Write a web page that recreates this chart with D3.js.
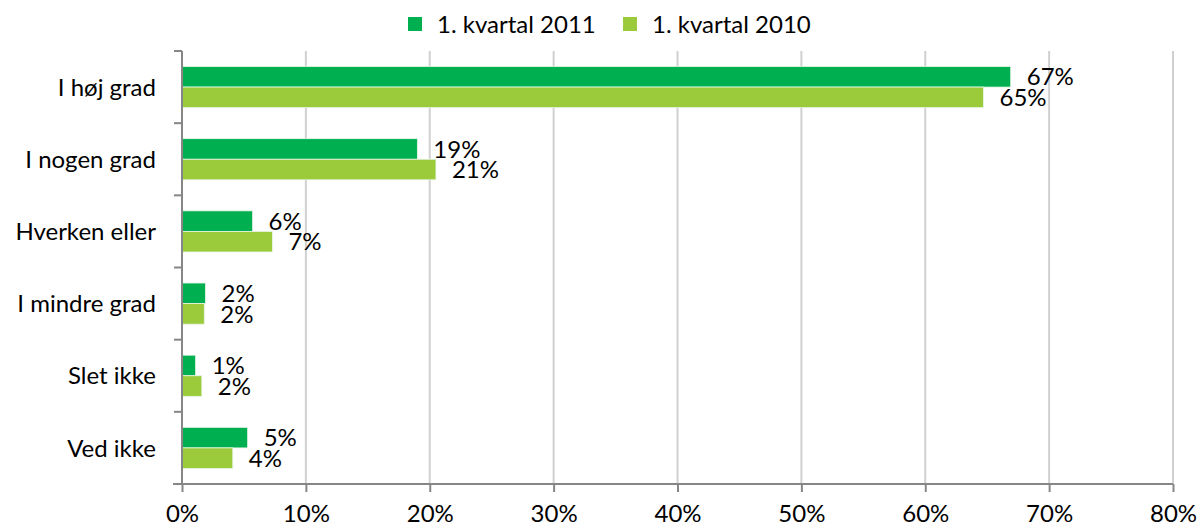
<!DOCTYPE html>
<html>
<head>
<meta charset="utf-8">
<script src="https://cdn.jsdelivr.net/npm/d3@7"></script>
<style>
  body { margin: 0; background: #fff; }
  svg text { font-family: Lato, "Open Sans", sans-serif; fill: #000; }
</style>
</head>
<body>
<div class="plot"></div>
<script>
const width = 1199, height = 528;
const margin = {top: 51, right: 26, bottom: 44, left: 182};

// Data
const categories = ["I høj grad", "I nogen grad", "Hverken eller", "I mindre grad", "Slet ikke", "Ved ikke"];
const seriesNames = ["1. kvartal 2011", "1. kvartal 2010"];
const values2011 = [66.9, 19.0, 5.7, 1.9, 1.1, 5.3];
const values2010 = [64.7, 20.5, 7.3, 1.8, 1.6, 4.1];
const labels2011 = ["67%", "19%", "6%", "2%", "1%", "5%"];
const labels2010 = ["65%", "21%", "7%", "2%", "2%", "4%"];
const xTicks = [0, 10, 20, 30, 40, 50, 60, 70, 80];
const colors = ["#00B050", "#9BCB3B"];

const fontSize = "24px";

const svg = d3.select(".plot")
    .append("svg")
        .attr("width", width)
        .attr("height", height);

const x = d3.scaleLinear()
    .domain([0, 80])
    .range([margin.left, width - margin.right]);

const y = d3.scaleBand()
    .domain(categories)
    .range([margin.top, height - margin.bottom])
    .paddingInner(0.43)
    .paddingOuter(0.215);

const ySub = d3.scaleBand()
    .domain(seriesNames)
    .range([0, y.bandwidth()]);

// Gridlines
svg.append("g")
    .selectAll("line")
    .data(xTicks.filter(d => d > 0))
    .enter()
    .append("line")
        .attr("x1", d => x(d))
        .attr("x2", d => x(d))
        .attr("y1", margin.top)
        .attr("y2", height - margin.bottom)
        .attr("stroke", "#d0d0d0")
        .attr("stroke-width", 2);

// Bars
const series = [
    {name: seriesNames[0], values: values2011, labels: labels2011, color: colors[0]},
    {name: seriesNames[1], values: values2010, labels: labels2010, color: colors[1]}
];

series.forEach(s => {
    const g = svg.append("g");
    g.selectAll("rect")
        .data(categories)
        .enter()
        .append("rect")
            .attr("x", x(0))
            .attr("y", c => y(c) + ySub(s.name))
            .attr("width", (c, i) => x(s.values[i]) - x(0))
            .attr("height", ySub.bandwidth())
            .attr("fill", s.color)
            .attr("stroke", "#e8f5e8")
            .attr("stroke-width", 0.8);

    g.selectAll("text")
        .data(categories)
        .enter()
        .append("text")
            .attr("x", (c, i) => x(s.values[i]) + 16)
            .attr("y", c => y(c) + ySub(s.name) + ySub.bandwidth() / 2)
            .attr("dy", "0.36em")
            .style("font-size", fontSize)
            .text((c, i) => s.labels[i]);
});

// Y axis (ticks at category boundaries)
const yAxis = svg.append("g");
yAxis.append("line")
    .attr("x1", x(0)).attr("x2", x(0))
    .attr("y1", margin.top).attr("y2", height - margin.bottom)
    .attr("stroke", "#868686").attr("stroke-width", 2);
const step = y.step();
const bounds = categories.map(c => y(c) - step * y.paddingInner() / 2);
yAxis.selectAll("line.tick")
    .data(bounds)
    .enter()
    .append("line")
        .attr("class", "tick")
        .attr("x1", x(0) - 8).attr("x2", x(0))
        .attr("y1", d => d).attr("y2", d => d)
        .attr("stroke", "#868686").attr("stroke-width", 2);
yAxis.selectAll("text")
    .data(categories)
    .enter()
    .append("text")
        .attr("x", x(0) - 26)
        .attr("y", c => y(c) + y.bandwidth() / 2)
        .attr("dy", "0.36em")
        .attr("text-anchor", "end")
        .style("font-size", fontSize)
        .text(c => c);

// X axis
const xAxis = d3.axisBottom(x)
    .tickValues(xTicks)
    .tickSize(8)
    .tickPadding(13)
    .tickFormat(d => d + "%");
const gx = svg.append("g")
    .attr("transform", `translate(0,${height - margin.bottom})`)
    .call(xAxis);
gx.select(".domain")
    .attr("d", `M${x(0) - 9},0H${x(80)}`)
    .attr("stroke", "#868686").attr("stroke-width", 2);
gx.selectAll(".tick line").attr("stroke", "#868686").attr("stroke-width", 2);
gx.selectAll(".tick text")
    .style("font-size", fontSize)
    .style("font-family", "Lato, 'Open Sans', sans-serif")
    .attr("fill", "#000");

// Legend
const legendX = [408, 623];
const legend = svg.append("g");
series.forEach((s, i) => {
    legend.append("rect")
        .attr("x", legendX[i])
        .attr("y", 17)
        .attr("width", 14)
        .attr("height", 14)
        .attr("fill", s.color);
    legend.append("text")
        .attr("x", legendX[i] + 29)
        .attr("y", 24)
        .attr("dy", "0.36em")
        .style("font-size", fontSize)
        .text(s.name);
});
</script>
</body>
</html>
